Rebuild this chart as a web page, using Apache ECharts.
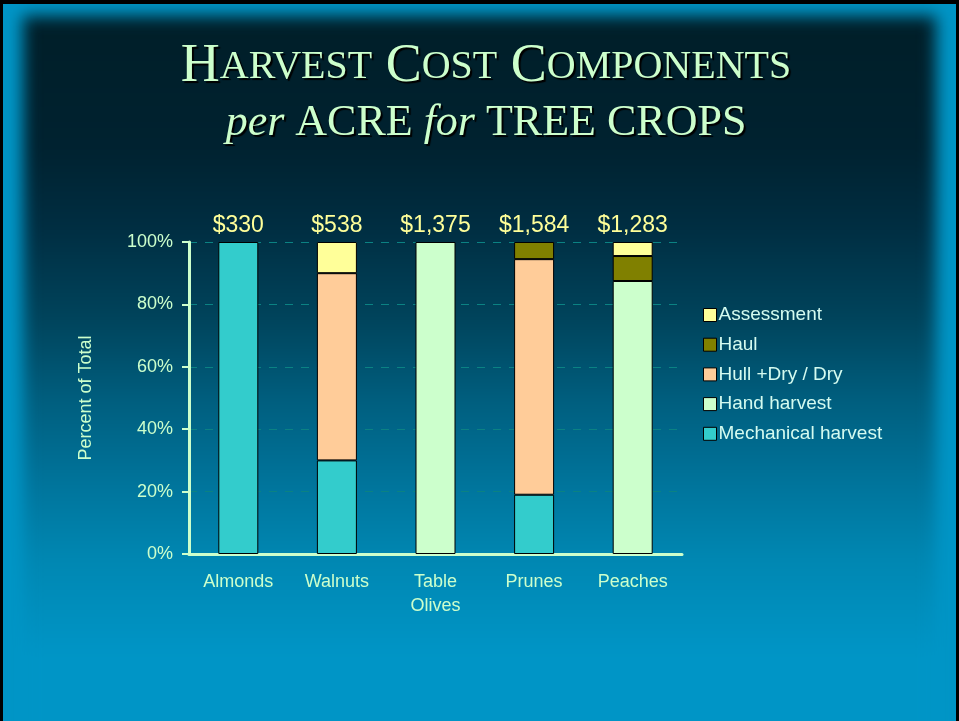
<!DOCTYPE html>
<html>
<head>
<meta charset="utf-8">
<title>Harvest Cost Components per Acre for Tree Crops</title>
<script src="https://cdn.jsdelivr.net/npm/echarts@6/dist/echarts.min.js"></script>
<style>
    html, body { margin: 0; padding: 0; background: #000; overflow: hidden; }
    #slide { position: absolute; left: 3px; top: 4px; width: 953px; height: 717px; background: #0095c6; overflow: hidden; }
    #glow {
        position: absolute; left: 20px; top: 12px; width: 913px; height: 760px;
        background: linear-gradient(to bottom,
            #001e28 0px, #002230 134px, #002e42 214px, #00445c 304px,
            #005e7e 384px, #00739a 464px, #0087b2 544px, #0095c6 640px);
        filter: blur(8px);
    }
    #chart { position: absolute; left: 0; top: 0; width: 959px; height: 721px; }
</style>
</head>
<body>
<div id="slide"><div id="glow"></div></div>
<div id="chart"></div>
<script>
// 품목 / 시리즈 값 (퍼센트)
const categories = ['Almonds', 'Walnuts', 'Table\nOlives', 'Prunes', 'Peaches'];
const mechanical = [100, 30, null, 19, null];
const handHarvest = [null, null, 100, null, 87.5];
const hullDry = [null, 60, null, 75.5, null];
const haul = [null, null, null, 5.5, 8];
const assessment = [null, 10, null, null, 4.5];
const totals = [330, 538, 1375, 1584, 1283];
const yTicks = [0, 20, 40, 60, 80, 100];

const pale = '#ccffcc';
const font = 'Arial, "Liberation Sans", sans-serif';
const serif = '"Liberation Serif", "Times New Roman", serif';

function segment(name, data, color) {
    return {
        name: name,
        type: 'bar',
        stack: 'total',
        data: data,
        barWidth: 40,
        itemStyle: { color: color, borderColor: '#000', borderWidth: 1 }
    };
}

// 제목 글자 스타일 (그림자 포함)
function titleStyle(size, italic) {
    return {
        fontFamily: serif, fontSize: size, fontWeight: 'normal',
        fontStyle: italic ? 'italic' : 'normal',
        lineHeight: 56, color: pale,
        textShadowColor: '#000', textShadowOffsetX: 2, textShadowOffsetY: 2, textShadowBlur: 1
    };
}

const chart = echarts.init(document.getElementById('chart'));

chart.setOption({
    backgroundColor: 'transparent',
    animation: false,
    title: {
        left: 481,
        top: 34,
        textAlign: 'center',
        text: '{b|H}{s|ARVEST}{b| C}{s|OST}{b| C}{s|OMPONENTS}\n{i|per}{c| ACRE }{i|for}{c| TREE CROPS}',
        textStyle: {
            fontWeight: 'normal',
            rich: {
                b: titleStyle(54, false),
                s: titleStyle(40, false),
                c: titleStyle(44, false),
                i: titleStyle(44, true)
            }
        }
    },
    legend: {
        orient: 'vertical',
        left: 698,
        top: 300,
        itemWidth: 13,
        itemHeight: 13,
        itemGap: 9.7,
        icon: 'rect',
        data: ['Assessment', 'Haul', 'Hull +Dry / Dry', 'Hand harvest', 'Mechanical harvest'],
        itemStyle: { borderColor: '#000', borderWidth: 1 },
        textStyle: { color: '#d4fbf0', fontFamily: font, fontSize: 19, lineHeight: 20, padding: [0, 0, 0, -3] }
    },
    grid: { left: 189, right: 277, top: 242, bottom: 167 },
    xAxis: {
        type: 'category',
        data: categories,
        axisLine: { lineStyle: { color: pale, width: 3 } },
        axisTick: { show: false },
        axisLabel: { color: pale, fontFamily: font, fontSize: 18, lineHeight: 24, margin: 16, interval: 0 }
    },
    yAxis: {
        type: 'value',
        min: 0,
        max: 100,
        interval: 20,
        name: 'Percent of Total',
        nameLocation: 'middle',
        nameGap: 94,
        nameTextStyle: { color: pale, fontFamily: font, fontSize: 18 },
        axisLine: { show: true, lineStyle: { color: pale, width: 3 } },
        axisTick: { show: true, length: 7, lineStyle: { color: pale, width: 2 } },
        axisLabel: {
            color: pale, fontFamily: font, fontSize: 18, margin: 16,
            formatter: v => yTicks.indexOf(v) >= 0 ? v + '%' : ''
        },
        splitLine: { show: true, lineStyle: { color: '#0b8283', type: [8, 8], width: 1 } }
    },
    series: [
        segment('Mechanical harvest', mechanical, '#33cccc'),
        segment('Hand harvest', handHarvest, '#ccffcc'),
        segment('Hull +Dry / Dry', hullDry, '#ffcc99'),
        segment('Haul', haul, '#808000'),
        segment('Assessment', assessment, '#ffff99'),
        {
            // 막대 위 총액 라벨
            name: 'totals',
            type: 'bar',
            barWidth: 40,
            barGap: '-100%',
            silent: true,
            z: 1,
            data: totals.map(() => 100),
            itemStyle: { color: 'rgba(0,0,0,0)' },
            label: {
                show: true,
                position: 'top',
                distance: 5,
                color: '#ffff99',
                fontFamily: font,
                fontSize: 23,
                formatter: p => '$' + totals[p.dataIndex].toLocaleString('en-US')
            }
        }
    ]
});
</script>
</body>
</html>
